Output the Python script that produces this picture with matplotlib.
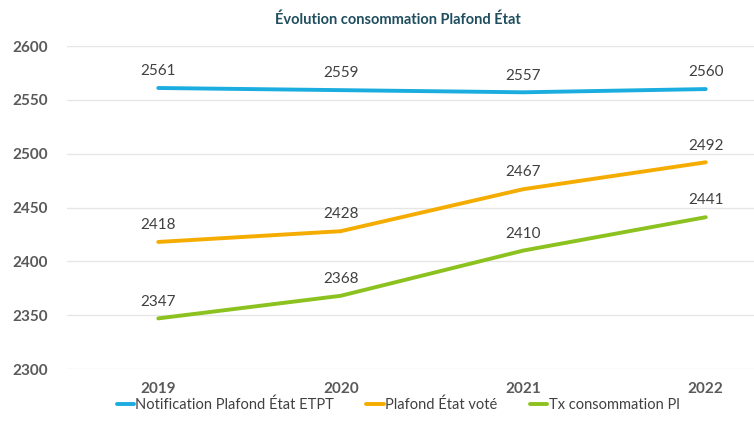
import matplotlib
matplotlib.use("Agg")
import matplotlib.pyplot as plt

years = ["2019", "2020", "2021", "2022"]
notification = [2561, 2559, 2557, 2560]
plafond_vote = [2418, 2428, 2467, 2492]
tx_conso = [2347, 2368, 2410, 2441]
series_names = ["Notification Plafond État ETPT", "Plafond État voté", "Tx consommation Pl"]
colors = ["#1BADDF", "#F5AC00", "#8CC21F"]

plt.rcParams['font.family'] = ['Lato', 'DejaVu Sans']

fig = plt.figure(figsize=(7.54, 4.23), dpi=100)
ax = fig.add_axes([67/754, 1-369/423, (797-67)/754, (369-46)/423])

x = range(len(years))
for vals, name, c in zip([notification, plafond_vote, tx_conso], series_names, colors):
    ax.plot(x, vals, color=c, lw=2.8, label=name, solid_capstyle='round')
    for xi, v in zip(x, vals):
        ax.annotate(str(v), (xi, v), xytext=(0, 7), textcoords='offset points',
                    ha='center', va='bottom', fontsize=11, color='#404040')

ax.set_xlim(-0.5, 3.5)
ax.set_ylim(2300, 2600)
ax.set_yticks(range(2300, 2601, 50))
ax.set_xticks(list(x))
ax.set_xticklabels(years, fontsize=11, fontweight='bold', color='#595959')
for lab in ax.get_yticklabels():
    lab.set_fontsize(11)
    lab.set_fontweight('bold')
    lab.set_color('#595959')
ax.tick_params(axis='both', length=0)
ax.tick_params(axis='y', pad=14)
ax.tick_params(axis='x', pad=9)
ax.grid(axis='y', color='#E6E6E6', lw=1)
ax.set_axisbelow(True)
for s in ax.spines.values():
    s.set_visible(False)

fig.text(398/754, 1-20/423, "Évolution consommation Plafond État", ha='center', va='center',
         fontsize=10.5, fontweight='bold', color='#1F4E5F')

handles, labels = ax.get_legend_handles_labels()
fig.legend(handles, labels, loc='center', bbox_to_anchor=(398/754, 1-405/423), ncol=3,
           frameon=False, fontsize=10.5, handlelength=1.2, handletextpad=0.1,
           columnspacing=2.2, labelcolor='#404040', borderpad=0.1)

fig.savefig("out.png", dpi=100)
